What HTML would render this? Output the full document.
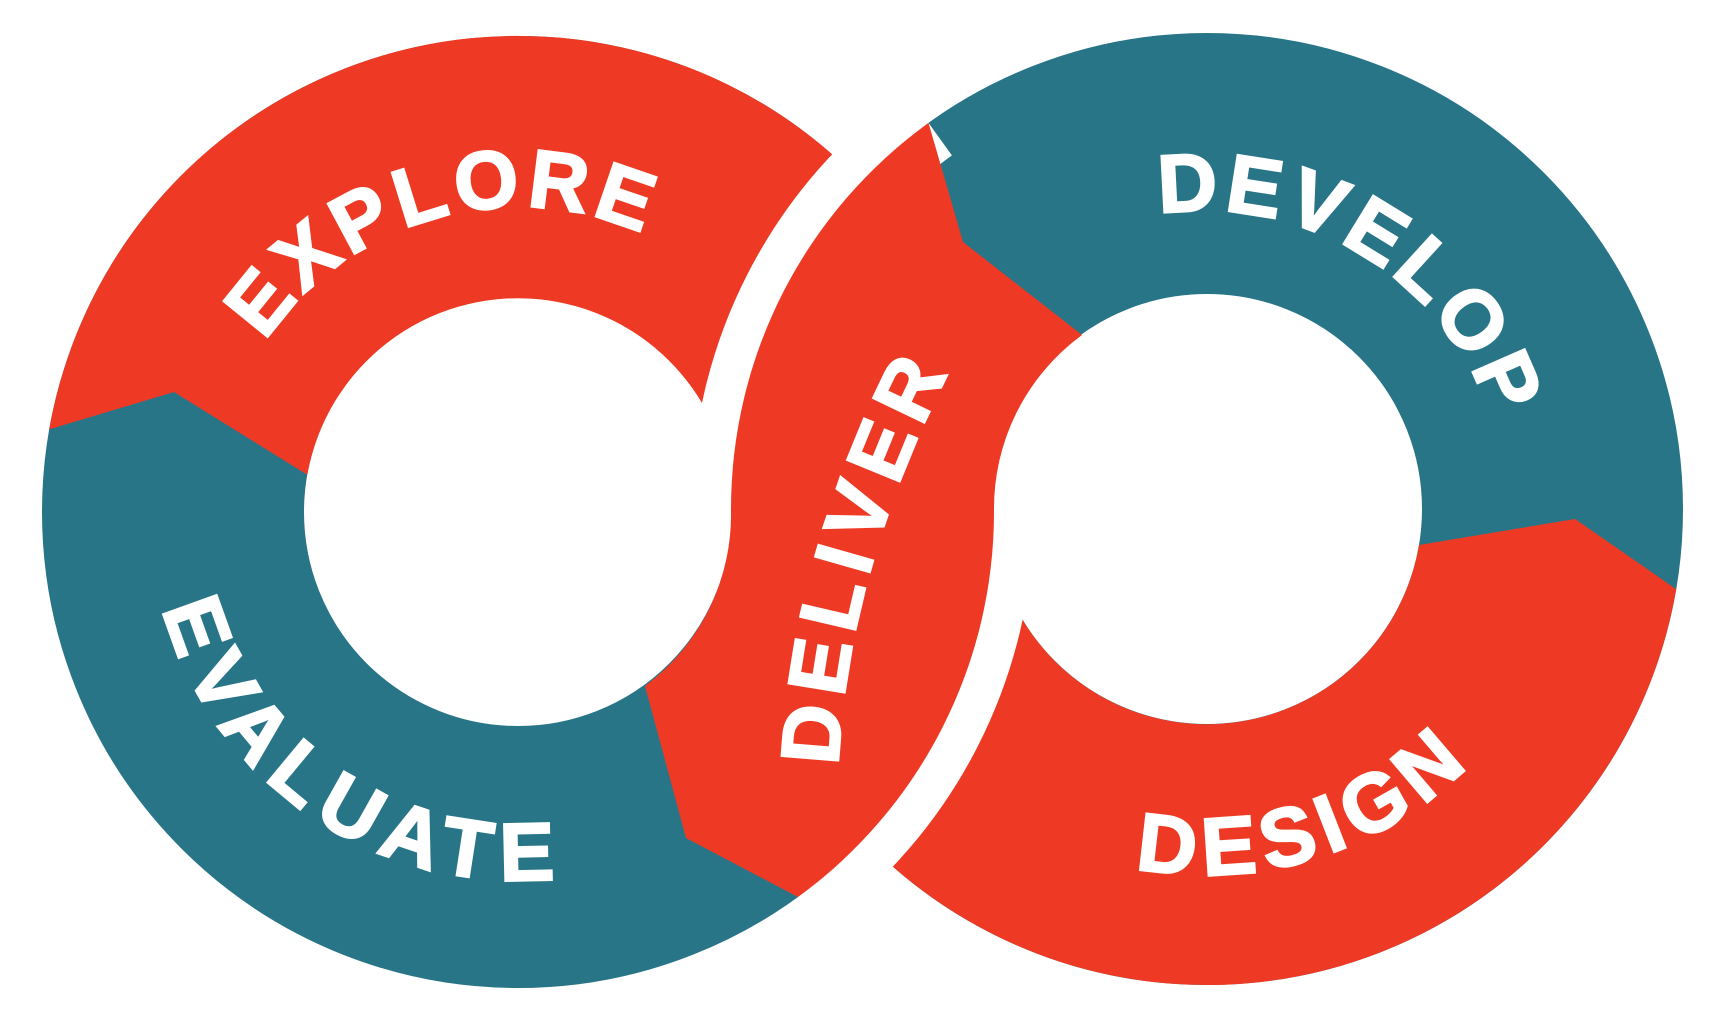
<!DOCTYPE html>
<html><head><meta charset="utf-8"><style>
html,body{margin:0;padding:0;background:#fff;}
svg{display:block;}
text{font-family:"Liberation Sans",sans-serif;font-weight:bold;fill:#fff;stroke:#fff;stroke-width:2.5px;font-size:82px;}
</style></head><body>
<svg id="s" width="1727" height="1023" viewBox="0 0 1727 1023" xmlns="http://www.w3.org/2000/svg">
<defs>
<path id="pEx"/><path id="pDv"/><path id="pDs"/><path id="pEv"/>
<path id="pDl" d="M838,770 Q846,570 952,366"/>
</defs>
<circle cx="518" cy="512" r="345" fill="none" stroke="#287587" stroke-width="262"/>
<path d="M49.2,429.4 A476,476 0 0 1 994,512 L732,512 A214,214 0 0 0 307.3,474.8 L174,392 Z" fill="#EE3A24"/>
<circle cx="1207" cy="509" r="345.5" fill="none" stroke="#287587" stroke-width="261"/>
<path d="M1676.2,589.2 A476,476 0 0 1 731,509 L992,509 A215,215 0 0 0 1419,545 L1575,519 Z" fill="#EE3A24"/>
<path d="M928.5,122.9 A476,476 0 0 0 731,509" fill="none" stroke="#fff" stroke-width="80"/>
<path d="M798,897 A476,476 0 0 0 994,512" fill="none" stroke="#fff" stroke-width="80"/>
<path d="M928.5,122.9 A476,476 0 0 0 731,509 A214,214 0 0 1 645,686 L686,838 L798,897 A476,476 0 0 0 994,512 A215,215 0 0 1 1082,335 L963,242 Z" fill="#EE3A24"/>
<text><textPath href="#pEx" startOffset="50%" text-anchor="middle" id="tEx">EXPLORE</textPath></text>
<text><textPath href="#pDv" startOffset="50%" text-anchor="middle" id="tDv">DEVELOP</textPath></text>
<text><textPath href="#pDs" startOffset="50%" text-anchor="middle" id="tDs">DESIGN</textPath></text>
<text><textPath href="#pEv" startOffset="50%" text-anchor="middle" id="tEv">EVALUATE</textPath></text>
<text><textPath href="#pDl" startOffset="1%" textLength="410" lengthAdjust="spacing">DELIVER</textPath></text>
</svg>
<script>
function pt(cx,cy,r,a){var t=a*Math.PI/180;return (cx+r*Math.cos(t)).toFixed(1)+","+(cy+r*Math.sin(t)).toFixed(1);}
function setTop(id,tid,cx,cy,r,c,span){
 document.getElementById(id).setAttribute("d","M"+pt(cx,cy,r,c-90)+" A"+r+","+r+" 0 0 1 "+pt(cx,cy,r,c+90));
 document.getElementById(tid).setAttribute("textLength",(span*Math.PI/180*r).toFixed(0));
 document.getElementById(tid).setAttribute("lengthAdjust","spacing");
}
function setBot(id,tid,cx,cy,r,c,span){
 document.getElementById(id).setAttribute("d","M"+pt(cx,cy,r,c+90)+" A"+r+","+r+" 0 0 0 "+pt(cx,cy,r,c-90));
 document.getElementById(tid).setAttribute("textLength",(span*Math.PI/180*r).toFixed(0));
 document.getElementById(tid).setAttribute("lengthAdjust","spacing");
}
setTop("pEx","tEx",518,512,305,-106,80);
setTop("pDv","tDv",1207,509,303,-58.5,80);
setBot("pDs","tDs",1207,509,370,73,56);
setBot("pEv","tEv",518,512,370,124.5,80);
</script>
</body></html>
